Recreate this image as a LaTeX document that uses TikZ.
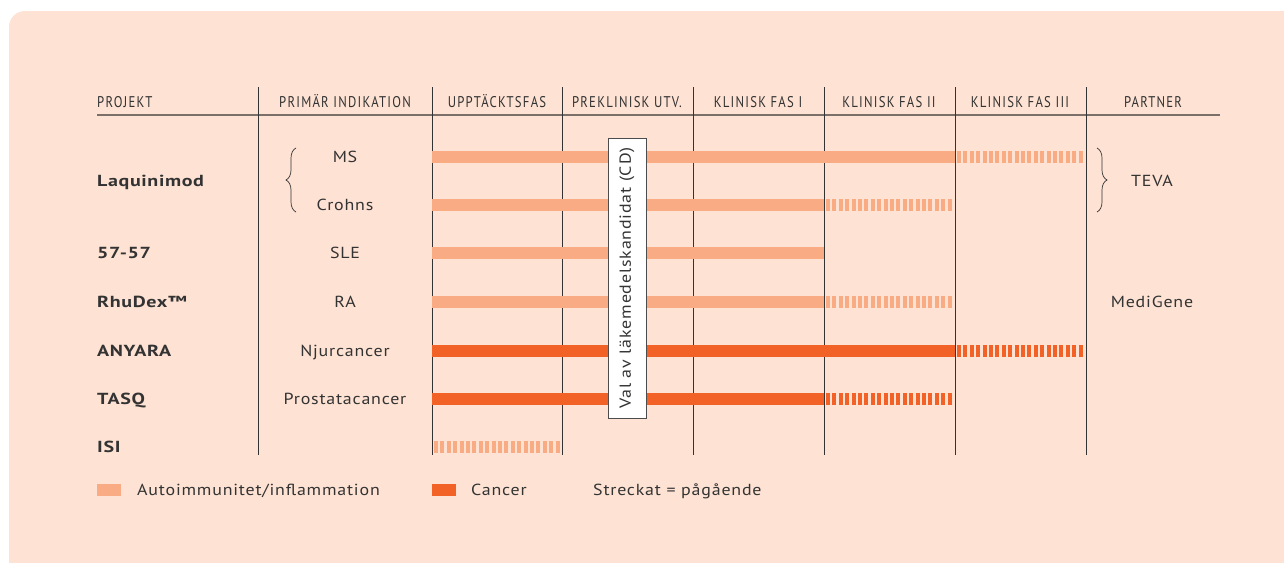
\documentclass[tikz,border=0pt]{standalone}
\usepackage{fontspec}
\setmainfont{PT Sans}[FakeStretch=1.12, LetterSpace=5, BoldFeatures={FakeStretch=1.25, LetterSpace=4}]
\newfontfamily\headfont[FakeStretch=0.82,LetterSpace=8]{PT Sans}
\usetikzlibrary{decorations.pathreplacing}
\definecolor{peach}{HTML}{FEE2D3}
\definecolor{autobar}{HTML}{F9AB83}
\definecolor{cancerbar}{HTML}{F26126}
\definecolor{inktext}{HTML}{333333}
\definecolor{rulegray}{HTML}{7B6F6A}
\tikzset{
    headstyle/.style={anchor=base, inner xsep=0pt, font=\headfont\fontsize{15.5}{18}\selectfont, text=inktext},
    projstyle/.style={anchor=base west, inner xsep=0pt, yshift=-5.5pt, font=\bfseries\fontsize{16}{19}\selectfont, text=inktext},
    textstyle/.style={anchor=base, inner xsep=0pt, yshift=-5.5pt, font=\fontsize{16}{19}\selectfont, text=inktext},
    barsolid/.style={line width=12pt},
    barrunning/.style={line width=12pt, dash pattern=on 4pt off 2.4pt},
    colline/.style={line width=1pt, black!80},
    bracestyle/.style={decorate, decoration={brace, amplitude=10pt}, line width=0.7pt, inktext},
    cdbox/.style={draw=black!70, fill=white, rotate=90, minimum width=280pt, minimum height=38pt, inner sep=0pt, font=\fontsize{16}{19}\selectfont, text=inktext},
    keybox/.style={minimum width=24pt, minimum height=12pt, inner sep=0pt}
}

\begin{document}
\begin{tikzpicture}[x=1pt, y=-1pt]

        \def\rowms{157}
        \def\rowcr{205}
        \def\rowsle{253}
        \def\rowra{302}
        \def\rowany{351}
        \def\rowtasq{399}
        \def\rowisi{447}

        \useasboundingbox (0,0) rectangle (1284,562);

        % background panel (only the top left corner stays inside the page)
        \fill[peach, rounded corners=16pt] (9,11) rectangle (1310,590);

        % ================= HEADER =================
        \node[headstyle, anchor=base west] (hproj) at (97,107) {PROJEKT};
        \node[headstyle] (hind) at (345,107) {PRIMÄR INDIKATION};
        \node[headstyle] (hdisc) at (497,107) {UPPTÄCKTSFAS};
        \node[headstyle] (hpre) at (627,107) {PREKLINISK UTV.};
        \node[headstyle] (hk1) at (758,107) {KLINISK FAS I};
        \node[headstyle] (hk2) at (889,107) {KLINISK FAS II};
        \node[headstyle] (hk3) at (1020,107) {KLINISK FAS III};
        \node[headstyle] (hpart) at (1153,107) {PARTNER};

        \draw[rulegray, line width=2pt] (97,115) -- (1220,115);

        % column separators
        \foreach \cx in {258,432,562,693,824,955,1086}
            \draw[colline] (\cx,87) -- (\cx,455);

        % ================= BARS =================
        % Laquinimod
        \draw[barsolid, autobar] (432,\rowms) -- (955,\rowms);
        \draw[barrunning, autobar] (957,\rowms) -- (1084,\rowms);
        \draw[barsolid, autobar] (432,\rowcr) -- (824,\rowcr);
        \draw[barrunning, autobar] (826,\rowcr) -- (953,\rowcr);
        % 57-57
        \draw[barsolid, autobar] (432,\rowsle) -- (824,\rowsle);
        % RhuDex
        \draw[barsolid, autobar] (432,\rowra) -- (824,\rowra);
        \draw[barrunning, autobar] (826,\rowra) -- (953,\rowra);
        % ANYARA
        \draw[barsolid, cancerbar] (432,\rowany) -- (955,\rowany);
        \draw[barrunning, cancerbar] (957,\rowany) -- (1084,\rowany);
        % TASQ
        \draw[barsolid, cancerbar] (432,\rowtasq) -- (824,\rowtasq);
        \draw[barrunning, cancerbar] (826,\rowtasq) -- (953,\rowtasq);
        % ISI
        \draw[barrunning, autobar] (434,\rowisi) -- (561,\rowisi);

        % candidate drug milestone
        \node[cdbox] (cd) at (627,278) {Val av läkemedelskandidat (CD)};

        % ================= PROJECTS =================
        \node[projstyle] (laq) at (97,181) {Laquinimod};
        \node[projstyle] (p5757) at (97,\rowsle) {57-57};
        \node[projstyle] (rhudex) at (97,\rowra) {RhuDex™};
        \node[projstyle] (anyara) at (97,\rowany) {ANYARA};
        \node[projstyle] (tasq) at (97,\rowtasq) {TASQ};
        \node[projstyle] (isi) at (97,\rowisi) {ISI};

        % ================= INDICATIONS =================
        \node[textstyle] (ms) at (345,\rowms) {MS};
        \node[textstyle] (crohns) at (345,\rowcr) {Crohns};
        \node[textstyle] (sle) at (345,\rowsle) {SLE};
        \node[textstyle] (ra) at (345,\rowra) {RA};
        \node[textstyle] (njur) at (345,\rowany) {Njurcancer};
        \node[textstyle] (prost) at (345,\rowtasq) {Prostatacancer};
        \draw[bracestyle] (296,212) -- (296,148);

        % ================= PARTNERS =================
        \draw[bracestyle] (1097,148) -- (1097,212);
        \node[textstyle] (teva) at (1152,181) {TEVA};
        \node[textstyle] (medigene) at (1152,\rowra) {MediGene};

        % ================= LEGEND =================
        \node[keybox, fill=autobar] (keyauto) at (109,490) {};
        \node[textstyle, anchor=base west] (keyautotxt) at (137,490) {Autoimmunitet/inflammation};
        \node[keybox, fill=cancerbar] (keycancer) at (444,490) {};
        \node[textstyle, anchor=base west] (keycancertxt) at (471,490) {Cancer};
        \node[textstyle, anchor=base west] (keyrun) at (593,490) {Streckat = pågående};

\end{tikzpicture}
\end{document}
